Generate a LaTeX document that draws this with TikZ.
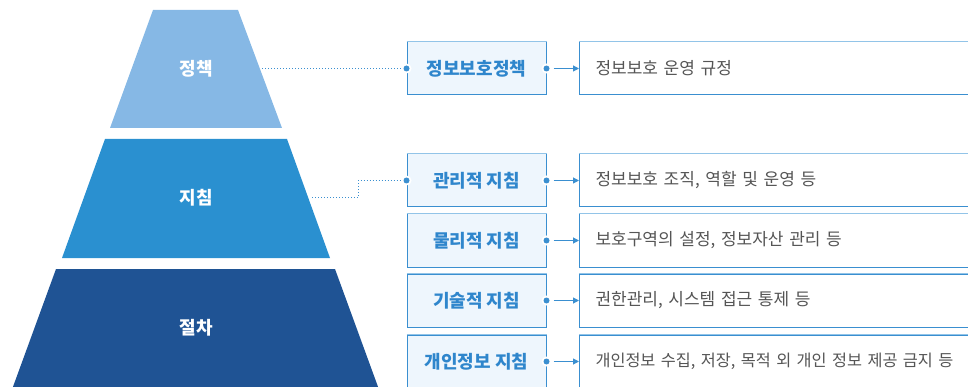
\documentclass[tikz,border=0pt]{standalone}
\usepackage{fontspec}
\setmainfont{Noto Sans CJK KR}
\usetikzlibrary{arrows.meta,calc}
\definecolor{tierA}{HTML}{86B8E5}
\definecolor{tierB}{HTML}{2A90D0}
\definecolor{tierC}{HTML}{1F5394}
\definecolor{midfill}{HTML}{EEF6FD}
\definecolor{edge}{HTML}{3A8FD0}
\definecolor{edgelight}{HTML}{92C4E8}
\definecolor{midtext}{HTML}{2F86CC}
\definecolor{graytext}{HTML}{555555}
\tikzset{
  tiertext/.style={text=white,font=\fontsize{18}{18}\selectfont\bfseries},
  midbox/.style={draw=edge,line width=1pt,fill=midfill,minimum width=139pt,minimum height=53pt,inner sep=0pt,text=midtext,font=\fontsize{18}{18}\selectfont\bfseries},
  rbox/.style={draw=edge,line width=1pt,fill=white,anchor=west,text width=430pt,inner xsep=16pt,minimum height=53pt,inner ysep=0pt,align=left,text=graytext,font=\fontsize{17}{17}\selectfont},
  toplight/.style={edgelight,line width=1.2pt},
  dotline/.style={edge,line width=1pt,dash pattern=on 1pt off 2pt},
  arrowline/.style={edge,line width=1pt,-{Triangle[length=6pt,width=6pt]}},
}
\newcommand{\joint}[1]{\fill[white] (#1) circle (5pt); \fill[edge] (#1) circle (3pt);}
\begin{document}
\begin{tikzpicture}[x=1pt,y=-1pt]
\useasboundingbox (0,0) rectangle (968,387);
\clip (0,0) rectangle (968,387);
% pyramid
\fill[tierA] (153,10) -- (238,10) -- (282,128) -- (110,128) -- cycle;
\fill[tierB] (105,139) -- (287,139) -- (330,258) -- (62,258) -- cycle;
\fill[tierC] (56,269) -- (335,269) -- (381,395) -- (10,395) -- cycle;
\node[tiertext] (t1) at (196,69) {정책};
\node[tiertext] (t2) at (196,198) {지침};
\node[tiertext] (t3) at (196,328) {절차};
% middle boxes
\node[midbox] (m1) at (476.5,68.5) {정보보호정책};
\node[midbox] (m2) at (476.5,180.5) {관리적 지침};
\node[midbox] (m3) at (476.5,240.5) {물리적 지침};
\node[midbox] (m4) at (476.5,300.5) {기술적 지침};
\node[midbox] (m5) at (476.5,361.5) {개인정보 지침};
% right boxes
\node[rbox] (r1) at (579,68.5) {정보보호 운영 규정};
\node[rbox] (r2) at (579,180.5) {정보보호 조직, 역할 및 운영 등};
\node[rbox] (r3) at (579,240.5) {보호구역의 설정, 정보자산 관리 등};
\node[rbox] (r4) at (579,300.5) {권한관리, 시스템 접근 통제 등};
\node[rbox,font=\fontsize{16.3}{17}\selectfont] (r5) at (579,361.5) {개인정보 수집, 저장, 목적 외 개인 정보 제공 금지 등};
\foreach \n in {m1,m2,m3,m4,m5,r1,r2,r3,r4,r5}{
  \draw[toplight] (\n.north west) -- (\n.north east);
}
% dotted connectors
\coordinate (p1) at (262,68.5);
\coordinate (p2) at (312,198);
\draw[dotline] (p1) -- (m1.west);
\draw[dotline] (p2) -- (358,198) |- (m2.west);
\joint{m1.west}
\joint{m2.west}
% arrows
\foreach \i in {1,...,5}{
  \draw[arrowline] ($(m\i.east)+(7,0)$) -- (r\i.west);
  \joint{m\i.east}
}
\end{tikzpicture}
\end{document}
